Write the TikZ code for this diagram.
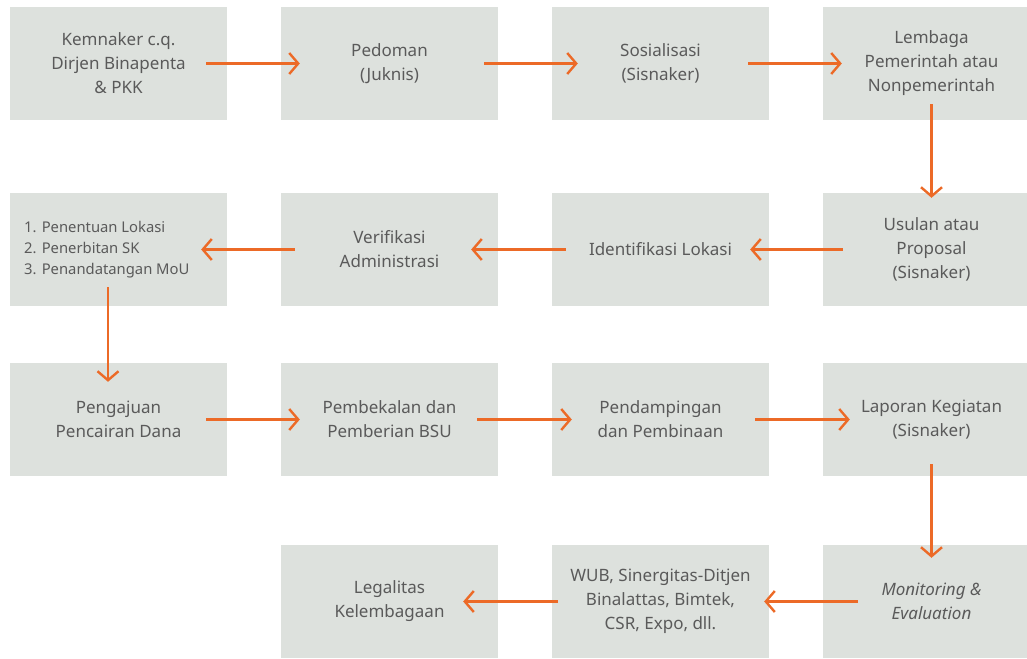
\documentclass[tikz,border=0pt]{standalone}
\usepackage{fontspec}
\setmainfont{Noto Sans}
\usetikzlibrary{arrows.meta}
\definecolor{boxfill}{HTML}{DDE1DD}
\definecolor{ink}{HTML}{5A5A5A}
\definecolor{flow}{HTML}{EC6A27}
\tikzset{
  stage/.style={fill=boxfill, draw=none, minimum width=217pt, minimum height=113pt,
    inner sep=0pt, align=center, text=ink, font=\fontsize{17}{24}\selectfont},
  flowarrow/.style={draw=flow, line width=2.4pt,
    -{Straight Barb[length=9pt,width=21pt,line width=2.4pt]}}
}
\begin{document}
\begin{tikzpicture}[x=1pt,y=-1pt]
\useasboundingbox (0,0) rectangle (1027,658);
% first row
\node[stage] (kem) at (118.5,63.5) {Kemnaker c.q.\\Dirjen Binapenta\\\& PKK};
\node[stage] (ped) at (389.5,63.5) {Pedoman\\(Juknis)};
\node[stage] (sos) at (660.5,63.5) {Sosialisasi\\(Sisnaker)};
\node[stage] (lem) at (931.5,63.5) {Lembaga\\Pemerintah atau\\Nonpemerintah};
% second row
\node[stage] (lst) at (118.5,249.5) {};
\node[anchor=west, text=ink, align=left, inner sep=0pt,
  font=\fontsize{14.8}{21}\selectfont] (lsttext) at (24,249.5)
  {1. Penentuan Lokasi\\2. Penerbitan SK\\3. Penandatangan MoU};
\node[stage] (ver) at (389.5,249.5) {Verifikasi\\Administrasi};
\node[stage] (ide) at (660.5,249.5) {Identifikasi Lokasi};
\node[stage] (usu) at (931.5,249.5) {Usulan atau\\Proposal\\(Sisnaker)};
% third row
\node[stage] (pen) at (118.5,419.5) {Pengajuan\\Pencairan Dana};
\node[stage] (pem) at (389.5,419.5) {Pembekalan dan\\Pemberian BSU};
\node[stage] (pdp) at (660.5,419.5) {Pendampingan\\dan Pembinaan};
\node[stage] (lap) at (931.5,419.5) {Laporan Kegiatan\\(Sisnaker)};
% fourth row
\node[stage] (leg) at (389.5,601.5) {Legalitas\\Kelembagaan};
\node[stage] (wub) at (660.5,601.5) {WUB, Sinergitas-Ditjen\\Binalattas, Bimtek,\\CSR, Expo, dll.};
\node[stage] (mon) at (931.5,601.5) {\itshape Monitoring \&\\\itshape Evaluation};
% connectors
\draw[flowarrow] ([xshift=-21pt]kem.east) -- ([xshift=19pt]ped.west);
\draw[flowarrow] ([xshift=-14pt]ped.east) -- ([xshift=26pt]sos.west);
\draw[flowarrow] ([xshift=-21pt]sos.east) -- ([xshift=19pt]lem.west);
\draw[flowarrow] ([yshift=16pt]lem.south) -- ([yshift=-5pt]usu.north);
\draw[flowarrow] ([xshift=20pt]usu.west) -- ([xshift=-19pt]ide.east);
\draw[flowarrow] ([xshift=14pt]ide.west) -- ([xshift=-27pt]ver.east);
\draw[flowarrow] ([xshift=14pt]ver.west) -- ([xshift=-26pt]lst.east);
\draw[flowarrow] ([xshift=-10.5pt,yshift=19pt]lst.south) -- ([xshift=-10.5pt,yshift=-19pt]pen.north);
\draw[flowarrow] ([xshift=-21pt]pen.east) -- ([xshift=19pt]pem.west);
\draw[flowarrow] ([xshift=-21pt]pem.east) -- ([xshift=20pt]pdp.west);
\draw[flowarrow] ([xshift=-14pt]pdp.east) -- ([xshift=27pt]lap.west);
\draw[flowarrow] ([yshift=12pt]lap.south) -- ([yshift=-13pt]mon.north);
\draw[flowarrow] ([xshift=35pt]mon.west) -- ([xshift=-5pt]wub.east);
\draw[flowarrow] ([xshift=6pt]wub.west) -- ([xshift=-35pt]leg.east);
\end{tikzpicture}
\end{document}
